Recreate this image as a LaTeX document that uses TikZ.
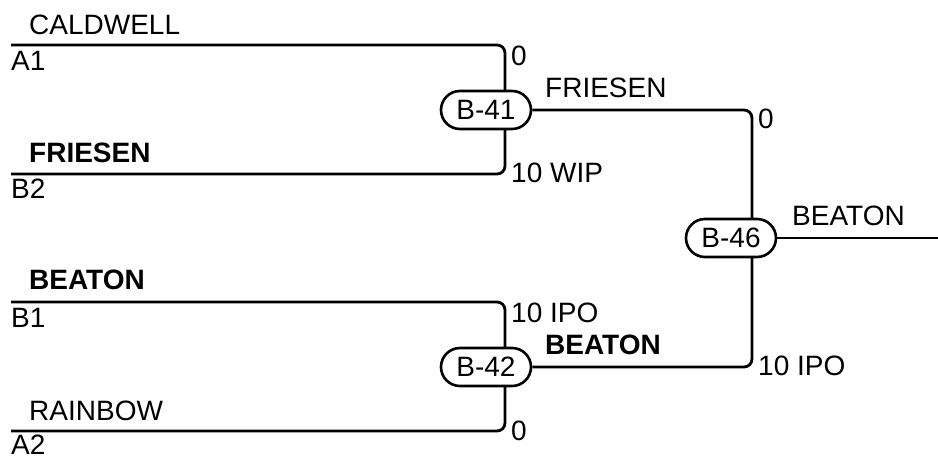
\documentclass[tikz,border=0pt]{standalone}
\usepackage{fontspec}
\setmainfont{Liberation Sans}
\usetikzlibrary{shapes.misc,backgrounds}
\begin{document}
\begin{tikzpicture}[x=1pt,y=-1pt,
    every node/.style={font=\fontsize{28}{32}\selectfont},
    game/.style={rounded rectangle,draw,fill=white,line width=2.6pt,
      minimum width=90pt,minimum height=38pt,inner sep=0pt},
    lbl/.style={anchor=base west,inner sep=0pt},
    wire/.style={line width=2.8pt,rounded corners=8pt}]
  \useasboundingbox (0,0) rectangle (938,457);
  % games
  \node[game] (b41) at (486,110) {B-41};
  \node[game] (b42) at (486,367) {B-42};
  \node[game] (b46) at (731,238) {B-46};
  % line ends
  \coordinate (a1) at (11,45);
  \coordinate (b2) at (11,174);
  \coordinate (b1) at (11,302);
  \coordinate (a2) at (11,431);
  \coordinate (j41) at (505,110);
  \coordinate (j42) at (505,367);
  \coordinate (j46) at (752,238);
  \coordinate (out) at (938,238);
  \begin{scope}[on background layer]
    \draw[wire] (a1) -| (j41) |- (b2);
    \draw[wire] (b1) -| (j42) |- (a2);
    \draw[wire] (b41.east) -| (j46) |- (b42.east);
    \draw[wire] (b46.east) -- (out);
  \end{scope}
  % seeds
  \node[lbl] (n1) at (29,35) {CALDWELL};
  \node[lbl] (s1) at (11,71) {A1};
  \node[lbl,font=\fontsize{28}{32}\selectfont\bfseries] (n2) at (29,163) {FRIESEN};
  \node[lbl] (s2) at (11,199) {B2};
  \node[lbl,font=\fontsize{28}{32}\selectfont\bfseries] (n3) at (29,290) {BEATON};
  \node[lbl] (s3) at (11,327) {B1};
  \node[lbl] (n4) at (29,420) {RAINBOW};
  \node[lbl] (s4) at (11,454) {A2};
  % scores and winners
  \node[lbl] (r1) at (511,66) {0};
  \node[lbl] (r2) at (511,183) {10 WIP};
  \node[lbl] (w41) at (545,98) {FRIESEN};
  \node[lbl] (r3) at (511,323) {10 IPO};
  \node[lbl] (r4) at (511,440) {0};
  \node[lbl,font=\fontsize{28}{32}\selectfont\bfseries] (w42) at (545,355) {BEATON};
  \node[lbl] (r5) at (758,129) {0};
  \node[lbl] (r6) at (758,375) {10 IPO};
  \node[lbl] (w46) at (792,226) {BEATON};
\end{tikzpicture}
\end{document}
